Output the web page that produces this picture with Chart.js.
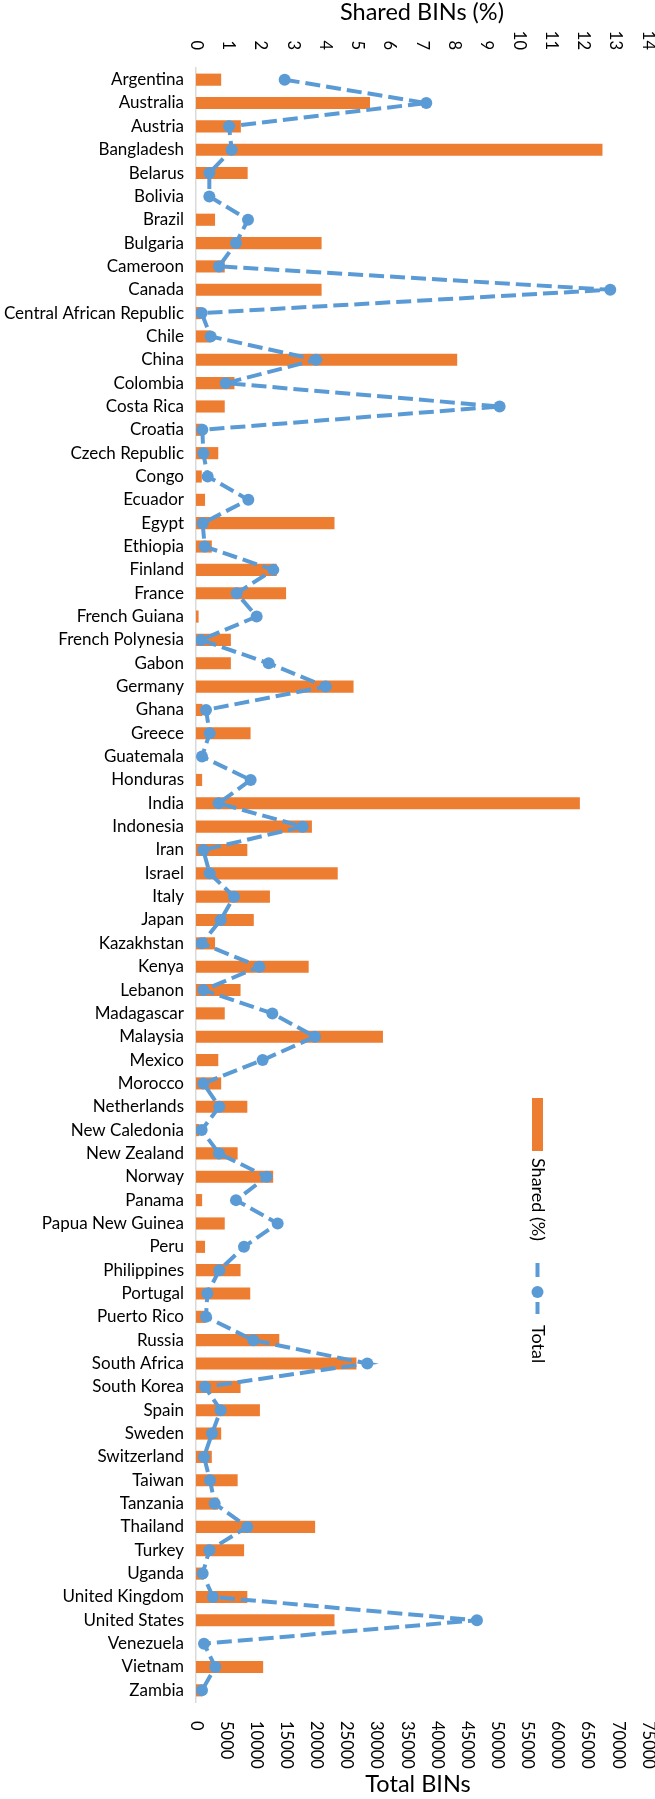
<!DOCTYPE html>
<html>
<head>
<meta charset="utf-8">
<script src="https://cdn.jsdelivr.net/npm/chart.js@4"></script>
<style>
html,body{margin:0;padding:0;background:#fff;}
#wrap{position:relative;width:655px;height:1799px;}
</style>
</head>
<body>
<div id="wrap"><canvas id="c" width="655" height="1799"></canvas></div>
<script>
const countries = ["Argentina","Australia","Austria","Bangladesh","Belarus","Bolivia","Brazil","Bulgaria","Cameroon","Canada","Central African Republic","Chile","China","Colombia","Costa Rica","Croatia","Czech Republic","Congo","Ecuador","Egypt","Ethiopia","Finland","France","French Guiana","French Polynesia","Gabon","Germany","Ghana","Greece","Guatemala","Honduras","India","Indonesia","Iran","Israel","Italy","Japan","Kazakhstan","Kenya","Lebanon","Madagascar","Malaysia","Mexico","Morocco","Netherlands","New Caledonia","New Zealand","Norway","Panama","Papua New Guinea","Peru","Philippines","Portugal","Puerto Rico","Russia","South Africa","South Korea","Spain","Sweden","Switzerland","Taiwan","Tanzania","Thailand","Turkey","Uganda","United Kingdom","United States","Venezuela","Vietnam","Zambia"];

const sharedPct = [0.78,5.39,1.39,12.59,1.6,0,0.59,3.89,0.89,3.89,0.15,0.45,8.09,1.19,0.89,0.2,0.69,0.18,0.28,4.29,0.49,2.5,2.79,0.08,1.08,1.08,4.88,0.2,1.69,0,0.19,11.89,3.59,1.59,4.39,2.29,1.79,0.59,3.49,1.38,0.89,5.79,0.69,0.78,1.59,0.1,1.29,2.39,0.19,0.89,0.28,1.38,1.68,0.3,2.58,4.97,1.38,1.98,0.78,0.49,1.29,0.69,3.69,1.49,0.23,1.59,4.29,0,2.08,0.2];

const totalBins = [14710,38212,5475,5917,2212,2212,8627,6636,3816,68738,940,2433,19908,4922,50378,1051,1217,1936,8682,1106,1438,12830,6747,10065,830,12055,21512,1659,2267,995,9069,3760,17696,1217,2267,6304,4092,940,10507,1217,12664,19742,11060,1217,3871,940,3816,11724,6636,13549,7963,3871,1880,1659,9512,28424,1493,4092,2654,1327,2323,3097,8516,2212,1106,2820,46618,1327,3207,995];

const seriesNames = ["Shared (%)", "Total"];
const axisTitles = ["Shared BINs (%)", "Total BINs"];
const sharedMax = 14, sharedStep = 1;
const totalMax = 75000, totalStep = 5000;

const ORANGE = '#ED7D31', BLUE = '#5B9BD5', TXT = '#000000';
const FONT = 'Lato, "Open Sans", sans-serif';

const customDraw = {
  id: 'customDraw',
  afterDraw(chart) {
    const ctx = chart.ctx;
    const top = chart.scales.x, bot = chart.scales.x2;
    ctx.save();
    ctx.fillStyle = TXT;
    ctx.font = '16.5px ' + FONT;
    ctx.textBaseline = 'middle';
    top.ticks.forEach(t => {
      const px = top.getPixelForValue(t.value);
      ctx.save();
      ctx.translate(px, 50);
      ctx.rotate(Math.PI / 2);
      ctx.textAlign = 'right';
      ctx.fillText(String(t.value), 0, 0);
      ctx.restore();
    });
    bot.ticks.forEach(t => {
      const px = bot.getPixelForValue(t.value);
      ctx.save();
      ctx.translate(px, 1721);
      ctx.rotate(Math.PI / 2);
      ctx.textAlign = 'left';
      ctx.fillText(String(t.value), 0, 0);
      ctx.restore();
    });
    ctx.font = '23.5px ' + FONT;
    ctx.textAlign = 'center';
    const cx = (chart.chartArea.left + chart.chartArea.right) / 2;
    ctx.fillText(axisTitles[0], cx, 12);
    ctx.fillText(axisTitles[1], cx - 4, 1784);
    const lx = 537.5;
    ctx.fillStyle = ORANGE;
    ctx.fillRect(lx - 5.5, 1098, 11, 53);
    ctx.fillStyle = TXT;
    ctx.font = '18px ' + FONT;
    ctx.save();
    ctx.translate(lx, 1158);
    ctx.rotate(Math.PI / 2);
    ctx.textAlign = 'left';
    ctx.fillText(seriesNames[0], 0, 0);
    ctx.restore();
    ctx.strokeStyle = BLUE;
    ctx.lineWidth = 4;
    ctx.beginPath();
    ctx.moveTo(lx, 1263); ctx.lineTo(lx, 1277);
    ctx.moveTo(lx, 1302); ctx.lineTo(lx, 1314);
    ctx.stroke();
    ctx.fillStyle = BLUE;
    ctx.beginPath();
    ctx.arc(lx, 1292, 6, 0, Math.PI * 2);
    ctx.fill();
    ctx.fillStyle = TXT;
    ctx.save();
    ctx.translate(lx, 1325);
    ctx.rotate(Math.PI / 2);
    ctx.textAlign = 'left';
    ctx.fillText(seriesNames[1], 0, 0);
    ctx.restore();
    ctx.restore();
  }
};

new Chart(document.getElementById('c'), {
  data: {
    labels: countries,
    datasets: [
      {
        type: 'line',
        label: seriesNames[1],
        data: totalBins,
        xAxisID: 'x2',
        yAxisID: 'y',
        borderColor: BLUE,
        backgroundColor: BLUE,
        borderWidth: 4,
        borderDash: [15, 6],
        borderCapStyle: 'butt',
        pointRadius: 6,
        pointHoverRadius: 6,
        pointBackgroundColor: BLUE,
        pointBorderWidth: 0,
        tension: 0,
        fill: false,
        order: 0
      },
      {
        type: 'bar',
        label: seriesNames[0],
        data: sharedPct,
        xAxisID: 'x',
        yAxisID: 'y',
        backgroundColor: ORANGE,
        borderWidth: 0,
        barPercentage: 0.52,
        categoryPercentage: 1,
        order: 1
      }
    ]
  },
  options: {
    indexAxis: 'y',
    responsive: false,
    animation: false,
    devicePixelRatio: 1,
    layout: { padding: { left: 0, right: 7, top: 0, bottom: 0 } },
    plugins: { legend: { display: false }, tooltip: { enabled: false } },
    scales: {
      x: {
        type: 'linear', position: 'top', min: 0, max: sharedMax,
        ticks: { display: false, stepSize: sharedStep },
        grid: { display: false, drawTicks: false },
        border: { display: false },
        afterFit(s) { s.height = 68; }
      },
      x2: {
        type: 'linear', position: 'bottom', min: 0, max: totalMax,
        ticks: { display: false, stepSize: totalStep },
        grid: { display: false, drawTicks: false },
        border: { display: false },
        afterFit(s) { s.height = 97; }
      },
      y: {
        type: 'category', position: 'left', offset: true,
        ticks: { autoSkip: false, color: TXT, font: { family: FONT, size: 17 }, padding: 12 },
        grid: { display: false, drawTicks: false },
        border: { display: true, color: '#D9D9D9', width: 1.5 },
        afterFit(s) { s.width = 196; }
      }
    }
  },
  plugins: [customDraw]
});
</script>
</body>
</html>
